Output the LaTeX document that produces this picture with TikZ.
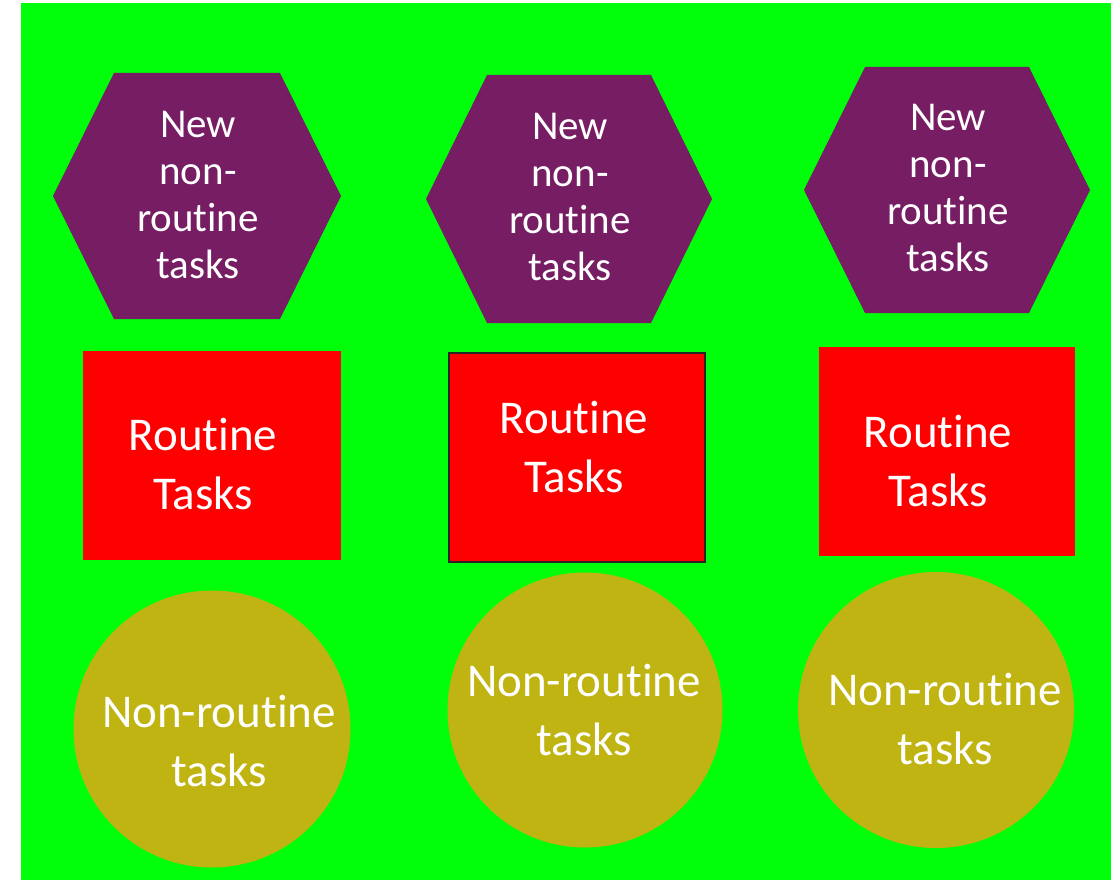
\documentclass[tikz,border=0pt]{standalone}
\usepackage{fontspec}
\setmainfont{Carlito}[Ligatures=NoCommon]
\definecolor{bggreen}{RGB}{0,255,10}
\definecolor{hexpurple}{RGB}{118,29,99}
\definecolor{boxred}{RGB}{255,0,0}
\definecolor{discolive}{RGB}{192,180,18}
\tikzset{
  hexlabel/.style={text=white, align=center, anchor=base, inner sep=0pt,
    font=\fontsize{41}{47}\selectfont},
  boxlabel/.style={text=white, align=center, anchor=base, inner sep=0pt,
    font=\fontsize{47}{59}\selectfont},
  taskbox/.style={fill=boxred, draw=none, anchor=north west, inner sep=0pt},
  taskdisc/.style={circle, fill=discolive, draw=none, inner sep=0pt},
}
% hexagon: left x, right x, top y, bottom y
\newcommand{\hexshape}[4]{%
  \fill[hexpurple] (#1,{(#3+#4)/2}) -- (#1+61,#3) -- (#2-61,#3) -- (#2,{(#3+#4)/2})
    -- (#2-61,#4) -- (#1+61,#4) -- cycle;}
\begin{document}
\begin{tikzpicture}[x=1pt,y=-1pt]
\useasboundingbox (0,0) rectangle (1117,880);
\fill[white] (0,0) rectangle (1117,880);
\fill[bggreen] (21,3) rectangle (1111,880);

% top row: hexagons (labels anchored at the baseline of their last line)
\hexshape{53}{341}{73}{319}
\hexshape{426}{712}{75}{323}
\hexshape{804}{1090}{67}{313}
\node[hexlabel] (h1) at (198,278) {New\\non-\\routine\\tasks};
\node[hexlabel] (h2) at (570,280) {New\\non-\\routine\\tasks};
\node[hexlabel] (h3) at (948,271) {New\\non-\\routine\\tasks};

% middle row: routine task boxes
\node[taskbox, minimum width=258pt, minimum height=209pt] (r1) at (83,351) {};
\node[taskbox, draw=black!85, line width=2pt, minimum width=256pt, minimum height=209pt] (r2) at (448,352) {};
\node[taskbox, minimum width=256pt, minimum height=209pt] (r3) at (819,347) {};
\node[boxlabel] (r1t) at (203,509) {Routine\\Tasks};
\node[boxlabel] (r2t) at (574,492) {Routine\\Tasks};
\node[boxlabel] (r3t) at (938,506) {Routine\\Tasks};

% bottom row: non-routine discs
\node[taskdisc, minimum size=277pt] (c1) at (212,729) {};
\node[taskdisc, minimum size=275pt] (c2) at (585,710) {};
\node[taskdisc, minimum size=276pt] (c3) at (936,710) {};
\node[boxlabel] (c1t) at (219,786) {Non-routine\\tasks};
\node[boxlabel] (c2t) at (584,755) {Non-routine\\tasks};
\node[boxlabel] (c3t) at (945,764) {Non-routine\\tasks};
\end{tikzpicture}
\end{document}
